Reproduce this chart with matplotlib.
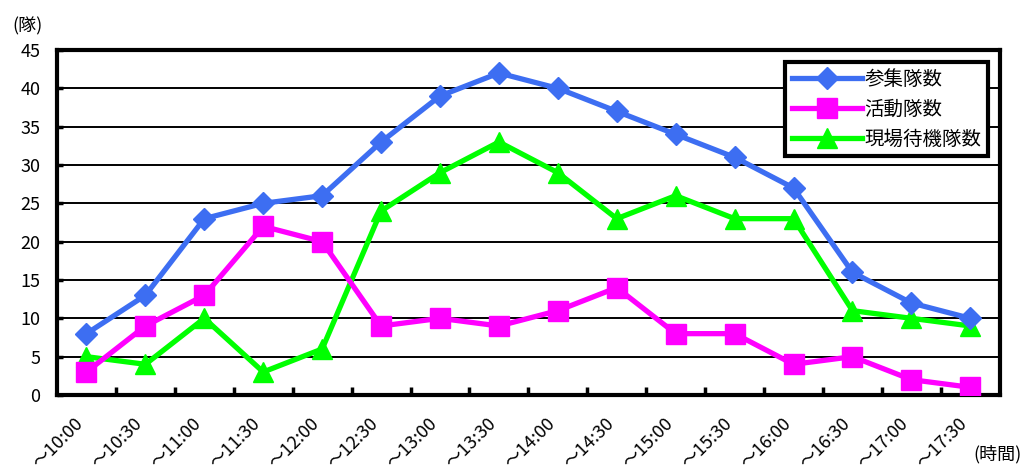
import numpy as np
import matplotlib
matplotlib.use('Agg')
import matplotlib.pyplot as plt
import matplotlib.transforms as mtransforms

plt.rcParams['font.family'] = ['Noto Sans CJK JP', 'DejaVu Sans']

# data
times = ['～10:00', '～10:30', '～11:00', '～11:30', '～12:00', '～12:30', '～13:00', '～13:30',
         '～14:00', '～14:30', '～15:00', '～15:30', '～16:00', '～16:30', '～17:00', '～17:30']
sanshu = [8, 13, 23, 25, 26, 33, 39, 42, 40, 37, 34, 31, 27, 16, 12, 10]
katsudo = [3, 9, 13, 22, 20, 9, 10, 9, 11, 14, 8, 8, 4, 5, 2, 1]
taiki = [5, 4, 10, 3, 6, 24, 29, 33, 29, 23, 26, 23, 23, 11, 10, 9]
series_names = ['参集隊数', '活動隊数', '現場待機隊数']

fig = plt.figure(figsize=(10.27, 4.71), dpi=100)
ax = fig.add_axes([0.0555, 0.1614, 0.918, 0.7324])

x = np.arange(len(times))
ax.plot(x, sanshu, color='#3d6ef2', lw=3.8, marker='D', ms=11, label=series_names[0], zorder=5)
ax.plot(x, katsudo, color='#ff00ff', lw=3.8, marker='s', ms=15, label=series_names[1], zorder=4)
ax.plot(x, taiki, color='#00ff00', lw=3.8, marker='^', ms=14, label=series_names[2], zorder=3)

ax.set_xlim(-0.5, len(times) - 0.5)
ax.set_ylim(0, 45)
ax.set_yticks(np.arange(0, 46, 5))
ax.yaxis.grid(True, color='black', lw=1.4)
ax.set_axisbelow(True)

# ticks at category boundaries, labels at centers
ax.set_xticks(np.arange(0.5, len(times) - 0.5), minor=False)
ax.set_xticklabels([])
ax.set_xticks(x, minor=True)
ax.set_xticklabels(times, minor=True, rotation=45, ha='right', rotation_mode='anchor', fontsize=13)
ax.tick_params(axis='x', which='major', direction='in', length=6, width=2.5)
ax.tick_params(axis='x', which='minor', length=0, pad=14)
ax.tick_params(axis='y', direction='in', length=4, width=2.5, labelsize=13, pad=12)
shift = mtransforms.ScaledTranslation(-12 / 100, 0, fig.dpi_scale_trans)
for lab in ax.get_xticklabels(minor=True):
    lab.set_transform(lab.get_transform() + shift)

for s in ax.spines.values():
    s.set_linewidth(3)
    s.set_color('black')

leg = ax.legend(loc='upper right', bbox_to_anchor=(0.988, 0.965), fontsize=14, frameon=True,
                fancybox=False, borderpad=0.35, handlelength=3.6, handletextpad=0.15,
                labelspacing=0.45, borderaxespad=0)
leg.get_frame().set_edgecolor('black')
leg.get_frame().set_linewidth(3)
leg.get_frame().set_alpha(1)

fig.text(0.012, 0.945, '(隊)', fontsize=13, ha='left', va='center')
fig.text(0.948, 0.035, '(時間)', fontsize=13, ha='left', va='center')

fig.savefig('out.png', dpi=100)
